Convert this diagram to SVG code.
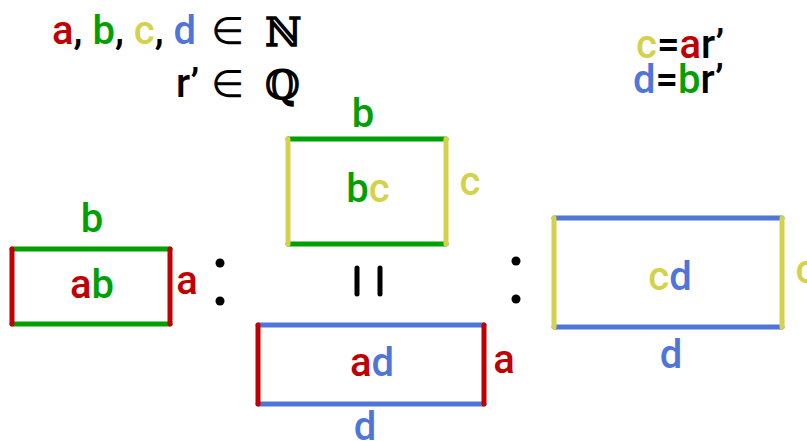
<svg xmlns="http://www.w3.org/2000/svg" width="807" height="441" viewBox="0 0 807 441">
<style>
text{font-family:Roboto,"Liberation Sans",sans-serif;font-weight:500;font-size:40px}
.m{font-family:"DejaVu Sans",sans-serif;font-weight:normal;font-size:38px}
.bb{font-family:"DejaVu Serif",serif;font-weight:bold;font-size:40px}
.r{fill:#c00000}.g{fill:#00a000}.y{fill:#d4d24a}.b{fill:#4f75d8}.k{fill:#000}
.mid{text-anchor:middle}
line{stroke-width:5;stroke-linecap:round}
.sr{stroke:#c00000}.sg{stroke:#00a000}.sy{stroke:#d4d24a}.sb{stroke:#4f75d8}.sk{stroke:#000}
</style>
<rect width="807" height="441" fill="#fff"/>
<g id="header">
<text x="52" y="44"><tspan class="r">a</tspan><tspan class="k">, </tspan><tspan class="g">b</tspan><tspan class="k">, </tspan><tspan class="y">c</tspan><tspan class="k">, </tspan><tspan class="b">d</tspan></text>
<text x="211" y="44" class="m">∈</text>
<text x="265" y="46" class="bb">ℕ</text>
<text x="176" y="97" class="k">r’</text>
<text x="211" y="97" class="m">∈</text>
<text x="265" y="99" class="bb">ℚ</text>
</g>
<g id="relations">
<text x="636" y="58"><tspan class="y">c</tspan><tspan class="k">=</tspan><tspan class="r">a</tspan><tspan class="k">r’</tspan></text>
<text x="633" y="93"><tspan class="b">d</tspan><tspan class="k">=</tspan><tspan class="g">b</tspan><tspan class="k">r’</tspan></text>
</g>
<g id="rect-ab">
<line class="sg" x1="12" y1="249" x2="170" y2="249"/>
<line class="sg" x1="12" y1="324" x2="170" y2="324"/>
<line class="sr" x1="12" y1="249" x2="12" y2="324"/>
<line class="sr" x1="170" y1="249" x2="170" y2="324"/>
<text x="92" y="232" class="g mid">b</text>
<text x="92" y="298" class="mid"><tspan class="r">a</tspan><tspan class="g">b</tspan></text>
<text x="187" y="294" class="r mid">a</text>
</g>
<g id="colon1">
<circle cx="220" cy="263" r="4.5"/>
<circle cx="220" cy="301" r="4.5"/>
</g>
<g id="rect-bc">
<line class="sg" x1="288" y1="139" x2="446" y2="139"/>
<line class="sg" x1="288" y1="244" x2="446" y2="244"/>
<line class="sy" x1="288" y1="139" x2="288" y2="244"/>
<line class="sy" x1="446" y1="139" x2="446" y2="244"/>
<text x="363" y="127" class="g mid">b</text>
<text x="368" y="202" class="mid"><tspan class="g">b</tspan><tspan class="y">c</tspan></text>
<text x="470" y="195" class="y mid">c</text>
</g>
<g id="equals">
<line class="sk" x1="357" y1="268" x2="357" y2="294"/>
<line class="sk" x1="380" y1="268" x2="380" y2="294"/>
</g>
<g id="rect-ad">
<line class="sb" x1="258" y1="325" x2="484" y2="325"/>
<line class="sb" x1="258" y1="404" x2="484" y2="404"/>
<line class="sr" x1="258" y1="325" x2="258" y2="404"/>
<line class="sr" x1="484" y1="325" x2="484" y2="404"/>
<text x="372" y="376" class="mid"><tspan class="r">a</tspan><tspan class="b">d</tspan></text>
<text x="504" y="373" class="r mid">a</text>
<text x="365" y="440" class="b mid">d</text>
</g>
<g id="colon2">
<circle cx="516" cy="261" r="4.5"/>
<circle cx="516" cy="299" r="4.5"/>
</g>
<g id="rect-cd">
<line class="sb" x1="554" y1="218" x2="782" y2="218"/>
<line class="sb" x1="554" y1="327" x2="782" y2="327"/>
<line class="sy" x1="554" y1="218" x2="554" y2="327"/>
<line class="sy" x1="782" y1="218" x2="782" y2="327"/>
<text x="670" y="290" class="mid"><tspan class="y">c</tspan><tspan class="b">d</tspan></text>
<text x="806" y="283" class="y mid">c</text>
<text x="671" y="368" class="b mid">d</text>
</g>
</svg>
